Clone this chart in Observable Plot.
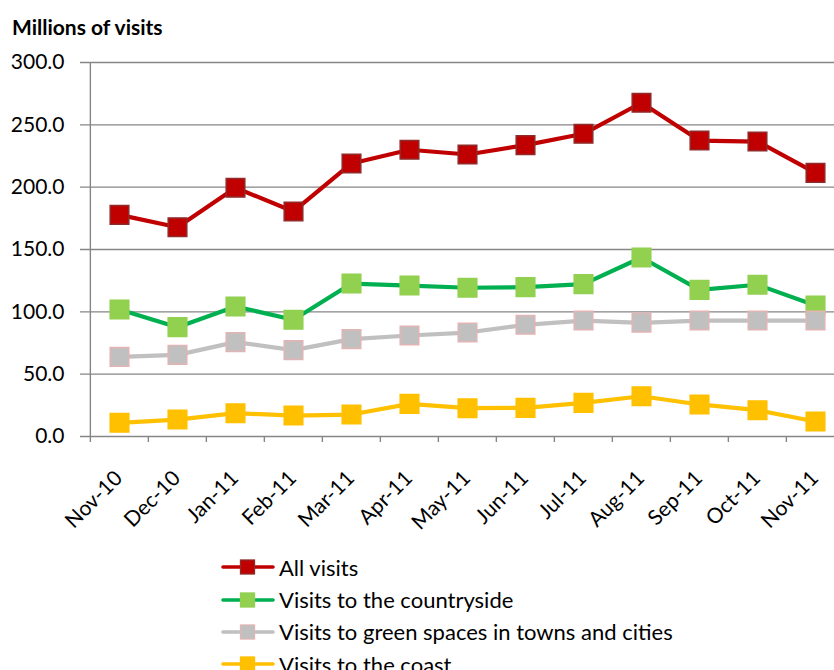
<!DOCTYPE html>
<html>
<head>
<meta charset="utf-8">
<script src="https://cdn.jsdelivr.net/npm/d3@7"></script>
<script src="https://cdn.jsdelivr.net/npm/@observablehq/plot@0.6"></script>
<style>
  html, body { margin: 0; padding: 0; background: #fff; }
  body { font-family: Lato, "Noto Sans", sans-serif; color: #000; }
  #wrap { position: relative; width: 834px; height: 670px; overflow: hidden; }
  #title { position: absolute; left: 12px; top: 13.6px; font-weight: bold; font-size: 21px; line-height: 1.2; }
  #chart { position: absolute; left: 0; top: 40px; }
  #legend { position: absolute; left: 221px; top: 551px; font-size: 22px; }
  .row { display: flex; align-items: center; height: 32.4px; white-space: nowrap; }
  .row svg { margin-right: 4px; }
</style>
</head>
<body>
<div id="wrap">
  <div id="title">Millions of visits</div>
  <div id="chart"></div>
  <div id="legend"></div>
</div>
<script>
const months = ["Nov-10","Dec-10","Jan-11","Feb-11","Mar-11","Apr-11","May-11","Jun-11","Jul-11","Aug-11","Sep-11","Oct-11","Nov-11"];
const allVisits   = [177.8,167.9,199.5,180.5,219.0,230.0,226.2,233.7,242.8,267.7,237.4,236.6,211.5];
const countryside = [101.9,87.7,104.3,93.6,122.7,121.1,119.3,119.8,122.2,143.6,117.6,121.7,105.1];
const greenSpaces = [63.9,65.5,75.7,69.3,78.1,81.0,83.4,89.6,93.0,91.2,93.0,93.0,93.0];
const coast       = [11.0,13.6,18.7,16.8,17.6,26.2,22.7,23.0,27.0,32.3,25.7,21.1,12.0];
const yTicks = [0, 50, 100, 150, 200, 250, 300];
const seriesNames = ["All visits","Visits to the countryside","Visits to green spaces in towns and cities","Visits to the coast"];
const seriesValues = [allVisits, countryside, greenSpaces, coast];
const lineColors   = ["#C00000","#00B050","#C0C0C0","#FFC000"];
const markerFills  = ["#C00000","#92D050","#C0C0C0","#FFC000"];
const markerStrokes= ["#8E2B2B","#92D050","#E3B4B4","#FFC000"];

const W = 834, H = 510;
const mLeft = 88, mTop = 22, mBottom = 114;
const xRange = [88, 845.6];
const step = (xRange[1] - xRange[0]) / months.length;
const gridColor = "#868686";
const font = "Lato, 'Noto Sans', sans-serif";

const marks = [
  Plot.ruleY(yTicks, {y: d => d, stroke: gridColor, strokeWidth: 1.4, insetLeft: -8}),
  Plot.ruleX([months[0]], {x: d => d, dx: -step / 2, y1: 0, y2: 300, stroke: gridColor, strokeWidth: 1.4}),
  Plot.axisX({ticks: months, tickSize: 6, tickFormat: () => "", dx: -step / 2, stroke: gridColor, strokeWidth: 1.4, label: null}),
  Plot.axisY({ticks: yTicks, tickSize: 0, tickPadding: 24, tickFormat: d3.format(".1f"), fontSize: 21, fill: "#000", label: null}),
  Plot.text(months, {x: d => d, frameAnchor: "bottom", dx: 4, dy: 43, rotate: -45, textAnchor: "end", lineAnchor: "bottom", fontSize: 21, fill: "#000"})
];

seriesNames.forEach((name, i) => {
  const rows = months.map((m, j) => ({month: m, value: seriesValues[i][j], series: name}));
  marks.push(Plot.line(rows, {x: "month", y: "value", stroke: lineColors[i], strokeWidth: 4.2, strokeLinejoin: "round"}));
  marks.push(Plot.dot(rows, {x: "month", y: "value", symbol: "square", r: 10.5, fill: markerFills[i], stroke: markerStrokes[i], strokeWidth: 1.5}));
});

const chart = Plot.plot({
  width: W, height: H,
  marginLeft: mLeft, marginRight: 0, marginTop: mTop, marginBottom: mBottom,
  style: {fontFamily: font, background: "#fff", overflow: "visible"},
  x: {type: "point", domain: months, range: xRange, padding: 0.5, axis: null},
  y: {domain: [0, 300], axis: null},
  marks
});
document.getElementById("chart").appendChild(chart);

const legend = document.getElementById("legend");
seriesNames.forEach((name, i) => {
  const row = document.createElement("div");
  row.className = "row";
  row.innerHTML = `<svg width="54" height="20" viewBox="0 0 54 20">
    <line x1="2" y1="10" x2="52" y2="10" stroke="${lineColors[i]}" stroke-width="3.6" stroke-linecap="round"/>
    <rect x="19.5" y="3" width="14" height="14" fill="${markerFills[i]}" stroke="${markerStrokes[i]}" stroke-width="1.3"/>
  </svg><span>${name}</span>`;
  legend.appendChild(row);
});
</script>
</body>
</html>
